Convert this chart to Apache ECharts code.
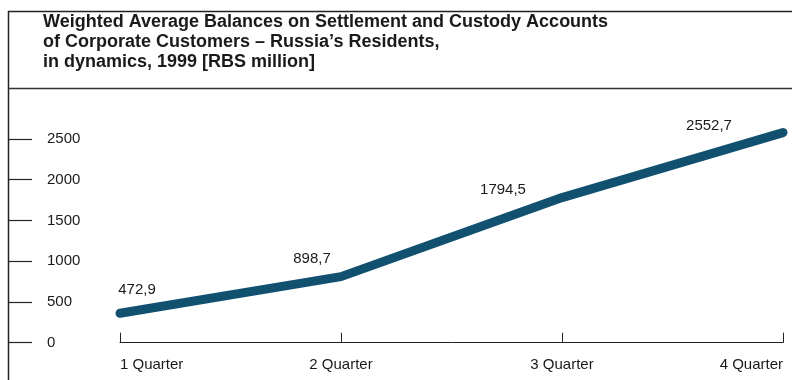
<!DOCTYPE html>
<html>
<head>
<meta charset="utf-8">
<script src="https://cdn.jsdelivr.net/npm/echarts@6/dist/echarts.min.js"></script>
<style>html,body{margin:0;padding:0;background:#fff}#c{width:792px;height:380px}</style>
</head>
<body>
<div id="c"></div>
<script>
const titleText = "Weighted Average Balances on Settlement and Custody Accounts\nof Corporate Customers \u2013 Russia\u2019s Residents,\nin dynamics, 1999 [RBS million]";
const categories = ["1 Quarter", "2 Quarter", "3 Quarter", "4 Quarter"];
const values = [361, 811, 1781, 2579];
const valueLabels = ["472,9", "898,7", "1794,5", "2552,7"];
const yTicks = [0, 500, 1000, 1500, 2000, 2500];

const labelOffsets = [[17, -23], [-29, -18], [-59, -8], [-74, -7]];
const font = "'Liberation Sans', Arial, sans-serif";

const chart = echarts.init(document.getElementById('c'), null, {renderer: 'canvas'});
chart.setOption({
  animation: false,
  backgroundColor: '#fff',
  title: {
    text: titleText,
    left: 43, top: 12, padding: 0,
    textStyle: {fontFamily: font, fontSize: 18, fontWeight: 'bold', color: '#1a1a1a', lineHeight: 20}
  },
  grid: {left: 120, right: 9, top: 139, bottom: 37.3, containLabel: false},
  xAxis: {
    type: 'category', data: categories, boundaryGap: false,
    axisLine: {show: true, lineStyle: {color: '#222', width: 1}},
    axisTick: {show: true, inside: true, length: 10, lineStyle: {color: '#222', width: 1}},
    axisLabel: {fontFamily: font, fontSize: 15, color: '#1a1a1a', margin: 15, alignMinLabel: 'left', alignMaxLabel: 'right'},
    splitLine: {show: false}
  },
  yAxis: {
    type: 'value', min: yTicks[0], max: yTicks[yTicks.length - 1], interval: 500,
    position: 'left', offset: 111,
    axisLine: {show: false},
    axisTick: {show: true, inside: true, length: 23, lineStyle: {color: '#222', width: 1.2}},
    axisLabel: {inside: true, margin: 38, fontFamily: font, fontSize: 15, color: '#1a1a1a', formatter: v => String(v)},
    splitLine: {show: false}
  },
  series: [{
    type: 'line', clip: false,
    symbol: 'circle', symbolSize: 0, showSymbol: true,
    lineStyle: {color: '#12506f', width: 9, cap: 'round', join: 'round'},
    itemStyle: {color: '#12506f'},
    data: values.map((v, i) => ({
      value: v,
      label: {show: true, position: 'inside', offset: labelOffsets[i], formatter: valueLabels[i],
        fontFamily: font, fontSize: 15, color: '#1a1a1a', align: 'center', verticalAlign: 'middle'}
    }))
  }],
  graphic: [
    {type: 'line', shape: {x1: 8.5, y1: 11, x2: 8.5, y2: 380}, style: {stroke: '#222', lineWidth: 1.5}},
    {type: 'line', shape: {x1: 8, y1: 11.5, x2: 792, y2: 11.5}, style: {stroke: '#222', lineWidth: 1.5}},
    {type: 'line', shape: {x1: 8, y1: 88.5, x2: 792, y2: 88.5}, style: {stroke: '#333', lineWidth: 1.5}}
  ]
});
</script>
</body>
</html>
